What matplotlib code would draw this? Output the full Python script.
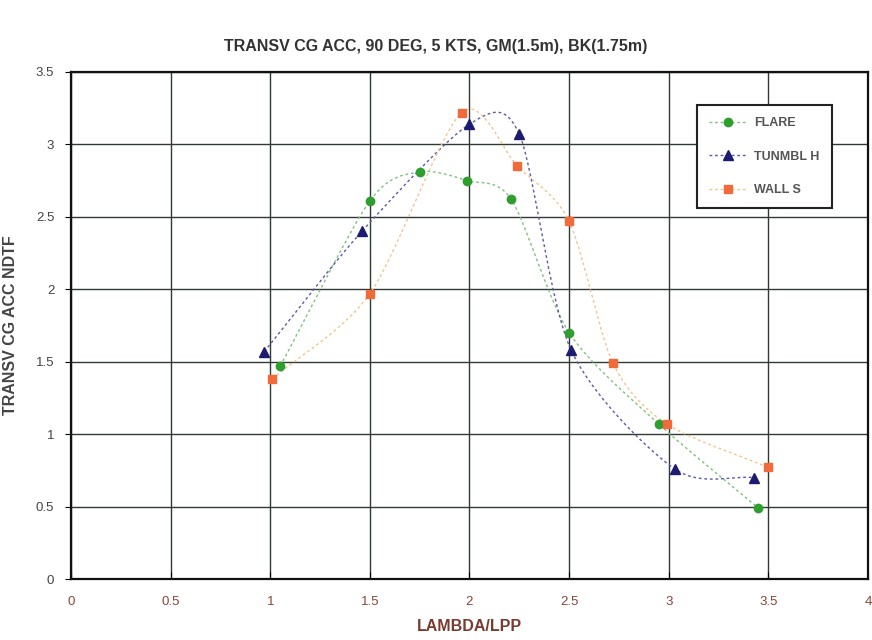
import numpy as np
import matplotlib
matplotlib.use("Agg")
import matplotlib.pyplot as plt

plt.rcParams['font.family'] = ['Liberation Sans', 'DejaVu Sans']

# data
flare_x = [1.05, 1.50, 1.75, 1.99, 2.21, 2.50, 2.95, 3.45]
flare_y = [1.47, 2.61, 2.81, 2.75, 2.62, 1.70, 1.07, 0.49]

tunmbl_x = [0.97, 1.46, 2.00, 2.25, 2.51, 3.03, 3.43]
tunmbl_y = [1.57, 2.40, 3.14, 3.07, 1.58, 0.76, 0.70]

wall_x = [1.01, 1.50, 1.96, 2.24, 2.50, 2.72, 2.99, 3.50]
wall_y = [1.38, 1.97, 3.22, 2.85, 2.47, 1.49, 1.07, 0.77]

x_ticks = [0, 0.5, 1, 1.5, 2, 2.5, 3, 3.5, 4]
y_ticks = [0, 0.5, 1, 1.5, 2, 2.5, 3, 3.5]


def smooth(xs, ys, n=30, k=0.42):
    # Catmull-Rom style curve through the points, like a spreadsheet "smoothed line"
    pts = np.column_stack([xs, ys])
    pts = np.vstack([2 * pts[0] - pts[1], pts, 2 * pts[-1] - pts[-2]])
    out = []
    t = np.linspace(0, 1, n)[:, None]
    for i in range(1, len(pts) - 2):
        p0, p1, p2, p3 = pts[i - 1], pts[i], pts[i + 1], pts[i + 2]
        c1 = p1 + (p2 - p0) * k / 3
        c2 = p2 - (p3 - p1) * k / 3
        seg = ((1 - t) ** 3 * p1 + 3 * (1 - t) ** 2 * t * c1
               + 3 * (1 - t) * t ** 2 * c2 + t ** 3 * p2)
        out.append(seg)
    out = np.vstack(out)
    return out[:, 0], out[:, 1]


fig = plt.figure(figsize=(8.72, 6.4), dpi=100)
ax = fig.add_axes([0.0814, 0.0953, 0.914, 0.7922])

series = [
    (flare_x, flare_y, 'FLARE', 'o', '#2e9e2e', '#7cc47c', 6),
    (tunmbl_x, tunmbl_y, 'TUNMBL H', '^', '#1c1c70', '#5a5aa8', 7),
    (wall_x, wall_y, 'WALL S', 's', '#f06a3a', '#f2c58a', 6),
]

handles = []
for xs, ys, name, mk, mcol, lcol, ms in series:
    sx, sy = smooth(xs, ys)
    ax.plot(sx, sy, color=lcol, lw=1.0, ls=(0, (2, 2)), zorder=2)
    ax.plot(xs, ys, ls='none', marker=mk, color=mcol, ms=ms, zorder=3)
    h, = ax.plot([], [], color=lcol, lw=1.0, ls=(0, (2, 2)), marker=mk,
                 markerfacecolor=mcol, markeredgecolor=mcol, ms=ms, label=name)
    handles.append(h)

ax.set_xlim(0, 4)
ax.set_ylim(0, 3.5)
ax.set_xticks(x_ticks)
ax.set_yticks(y_ticks)
ax.set_xticklabels([f'{v:g}' for v in x_ticks], color='#8a4436', fontsize=9.5)
ax.set_yticklabels([f'{v:g}' for v in y_ticks], color='#444444', fontsize=9.5)
ax.tick_params(axis='x', direction='in', length=5, pad=12)
ax.tick_params(axis='y', direction='out', length=4, pad=8)
ax.grid(True, color='#2f3a35', lw=1.0)
ax.set_axisbelow(True)
for sp in ax.spines.values():
    sp.set_color('#111111')
    sp.set_linewidth(1.6)

ax.set_xlabel('LAMBDA/LPP', color='#7a3a2e', fontsize=11.5, fontweight='bold')
ax.set_ylabel('TRANSV CG ACC NDTF', color='#444444', fontsize=11.5,
              fontweight='bold')
ax.xaxis.set_label_coords(0.5, -0.078)
ax.yaxis.set_label_coords(-0.066, 0.5)
fig.text(0.5, 0.928, 'TRANSV CG ACC, 90 DEG, 5 KTS, GM(1.5m), BK(1.75m)',
         ha='center', va='center', fontsize=11.5, fontweight='bold',
         color='#333333')

leg = ax.legend(handles=handles, loc='upper left', bbox_to_anchor=(0.785, 0.935),
                fancybox=False, framealpha=1, edgecolor='#222222',
                fontsize=9, labelspacing=1.7, borderpad=1.0,
                handlelength=3.0, handletextpad=0.6, borderaxespad=0)
leg.get_frame().set_linewidth(1.5)
for t in leg.get_texts():
    t.set_color('#555555')
    t.set_fontweight('bold')

fig.savefig('out.png', dpi=100, facecolor='white')
